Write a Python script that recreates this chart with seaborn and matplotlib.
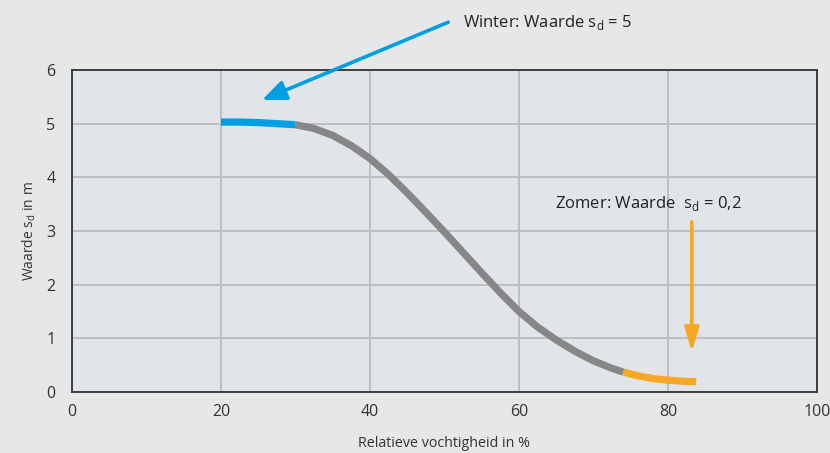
import matplotlib
matplotlib.use("Agg")
import matplotlib.pyplot as plt
import seaborn as sns
import pandas as pd

# ── data ──────────────────────────────────────────────────────────────────────
humidity = [20, 22.5, 25, 27.5, 30, 32.5, 35, 37.5, 40, 42.5, 45, 47.5, 50,
            52.5, 55, 57.5, 60, 62.5, 65, 67.5, 70, 72.5, 74, 76, 78, 80, 82, 83.8]
sd_value = [5.03, 5.03, 5.02, 5.0, 4.98, 4.91, 4.78, 4.59, 4.35, 4.05, 3.71,
            3.35, 2.98, 2.6, 2.22, 1.85, 1.5, 1.21, 0.97, 0.76, 0.58, 0.44,
            0.37, 0.3, 0.25, 0.22, 0.2, 0.19]
winter_end = 30
summer_start = 74
x_ticks = [0, 20, 40, 60, 80, 100]
y_ticks = [0, 1, 2, 3, 4, 5, 6]

BLUE = "#009fe3"
GREY = "#878787"
ORANGE = "#f7a823"
BG = "#e6e7e8"
FACE = "#e1e4e9"

sns.set_theme(style="whitegrid")
plt.rcParams["font.family"] = ["Open Sans", "DejaVu Sans"]
plt.rcParams["mathtext.fontset"] = "custom"
plt.rcParams["mathtext.rm"] = "Open Sans"

df = pd.DataFrame({"rh": humidity, "sd": sd_value})
winter = df[df.rh <= winter_end]
middle = df[(df.rh >= winter_end) & (df.rh <= summer_start)]
summer = df[df.rh >= summer_start]

fig = plt.figure(figsize=(8.3, 4.53), dpi=100, facecolor=BG)
ax = fig.add_axes([0.0867, 0.1347, 0.8976, 0.7108])
ax.set_facecolor(FACE)

for part, col in ((middle, GREY), (winter, BLUE), (summer, ORANGE)):
    sns.lineplot(data=part, x="rh", y="sd", color=col, lw=5.2, ax=ax,
                 solid_capstyle="butt", solid_joinstyle="round", sort=False, zorder=3)

ax.set_xlim(0, 100)
ax.set_ylim(0, 6)
ax.set_xticks(x_ticks)
ax.set_yticks(y_ticks)
ax.grid(True, color="#bcbec0", lw=1.4)
ax.tick_params(length=0, labelsize=11.5, labelcolor="#333333")
ax.tick_params(axis="x", pad=9)
ax.tick_params(axis="y", pad=12)
for s in ax.spines.values():
    s.set_visible(True)
    s.set_color("#333333")
    s.set_linewidth(1.3)

ax.set_xlabel("Relatieve vochtigheid in %", fontsize=10.3, color="#333333", labelpad=11)
ax.set_ylabel(r"Waarde s$_\mathregular{d}$ in m", fontsize=10, color="#333333", labelpad=6)

# annotations
ax.annotate("", xy=(25.5, 5.44), xytext=(50.5, 6.89), annotation_clip=False,
            arrowprops=dict(arrowstyle="-|>,head_length=1.2,head_width=0.5",
                            color=BLUE, lw=2.6, shrinkA=0, shrinkB=0))
ax.text(52.5, 6.89, r"Winter: Waarde s$_\mathregular{d}$ = 5", fontsize=12,
        color="#222222", va="center", ha="left", clip_on=False)

ax.annotate("", xy=(83.2, 0.74), xytext=(83.2, 3.17),
            arrowprops=dict(arrowstyle="-|>,head_length=1.2,head_width=0.35",
                            color=ORANGE, lw=2.6, shrinkA=0, shrinkB=0))
ax.text(64.8, 3.52, r"Zomer: Waarde  s$_\mathregular{d}$ = 0,2", fontsize=12,
        color="#222222", va="center", ha="left")

fig.savefig("out.png", dpi=100, facecolor=BG)
